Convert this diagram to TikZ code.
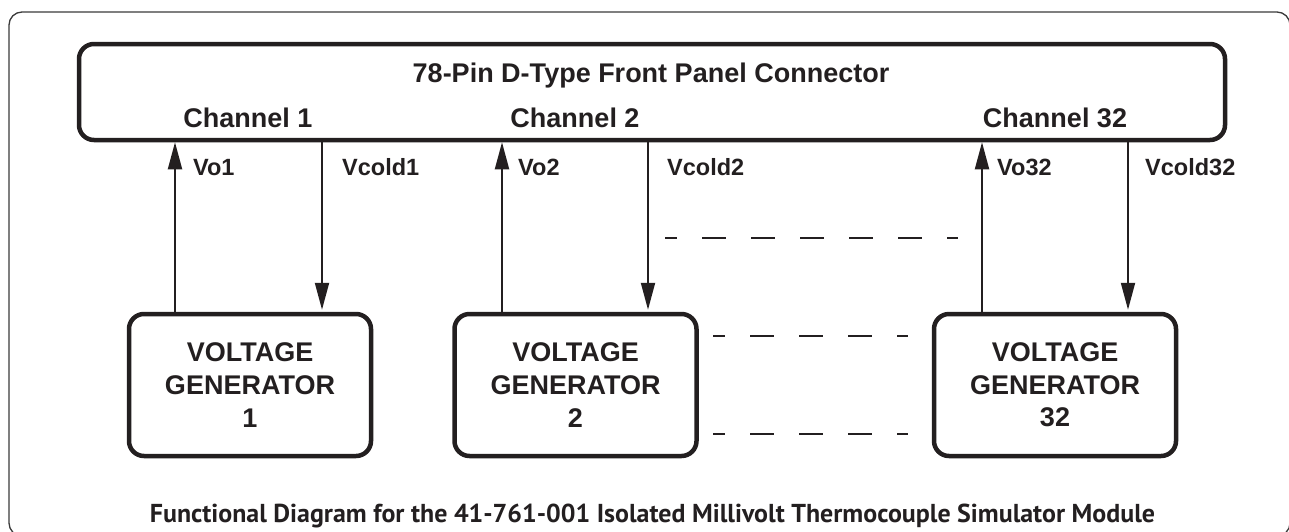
\documentclass[tikz,border=0pt]{standalone}
\usepackage{fontspec}
\setmainfont{Liberation Sans}
\newfontfamily\capfont{PT Sans}
\usetikzlibrary{arrows.meta}
\definecolor{ink}{HTML}{231F20}
\definecolor{framec}{HTML}{3A3A3A}
\begin{document}
\begin{tikzpicture}[x=1pt,y=-1pt,
  bigtxt/.style={font=\bfseries\fontsize{27}{32.7}\selectfont, text=ink, inner sep=0pt},
  sigtxt/.style={font=\bfseries\fontsize{23.5}{28}\selectfont, text=ink, inner sep=0pt, anchor=base west},
  genbox/.style={draw=ink, line width=4.5pt, rounded corners=15pt, minimum width=242pt, minimum height=142pt, inner sep=0pt, align=center, bigtxt},
  connbox/.style={draw=ink, line width=4.5pt, rounded corners=15pt, minimum width=1146pt, minimum height=96pt, inner sep=0pt},
  sig/.style={draw=ink, line width=2pt, -{Triangle[width=14pt,length=27pt]}},
  dots/.style={draw=ink, line width=2pt, dash pattern=on 24pt off 25pt, dash phase=12pt}
]
\useasboundingbox (0,0) rectangle (1289,531);
\draw[framec, line width=1.3pt, rounded corners=13pt] (9,12) rectangle (1290,536);

\node[connbox] (conn) at (652,92) {};
\node[bigtxt, anchor=base] (title) at (651,82) {78-Pin D-Type Front Panel Connector};
\node[bigtxt, anchor=base] (ch1) at (248,127) {Channel 1};
\node[bigtxt, anchor=base] (ch2) at (575,127) {Channel 2};
\node[bigtxt, anchor=base] (ch32) at (1055,127) {Channel 32};

\node[genbox] (g1) at (250,385) {VOLTAGE\\GENERATOR\\1};
\node[genbox] (g2) at (575.5,385) {VOLTAGE\\GENERATOR\\2};
\node[genbox] (g32) at (1055,385) {VOLTAGE\\GENERATOR\\32};

\coordinate (x1) at (175,0);
\coordinate (x2) at (322,0);
\coordinate (x3) at (502,0);
\coordinate (x4) at (648,0);
\coordinate (x5) at (982,0);
\coordinate (x6) at (1128,0);

\draw[sig] (g1.north -| x1) -- (conn.south -| x1);
\draw[sig, shorten >=2pt] (conn.south -| x2) -- (g1.north -| x2);
\draw[sig] (g2.north -| x3) -- (conn.south -| x3);
\draw[sig, shorten >=2pt] (conn.south -| x4) -- (g2.north -| x4);
\draw[sig] (g32.north -| x5) -- (conn.south -| x5);
\draw[sig, shorten >=2pt] (conn.south -| x6) -- (g32.north -| x6);

\node[sigtxt] (l1) at (193,175) {Vo1};
\node[sigtxt] (l2) at (342,175) {Vcold1};
\node[sigtxt] (l3) at (518,175) {Vo2};
\node[sigtxt] (l4) at (667,175) {Vcold2};
\node[sigtxt] (l5) at (997,175) {Vo32};
\node[sigtxt] (l6) at (1145,175) {Vcold32};

\coordinate (d1a) at (665,238);
\coordinate (d1b) at (958,238);
\coordinate (d2a) at (713,336);
\coordinate (d2b) at (908,336);
\coordinate (d3a) at (713,434);
\coordinate (d3b) at (908,434);
\draw[dots] (d1a) -- (d1b);
\draw[dots] (d2a) -- (d2b);
\draw[dots] (d3a) -- (d3b);

\node[anchor=base, inner sep=0pt, text=ink] (cap) at (652.5,522) {\resizebox{1005pt}{!}{\capfont\bfseries Functional Diagram for the 41-761-001 Isolated Millivolt Thermocouple Simulator Module}};
\end{tikzpicture}
\end{document}
